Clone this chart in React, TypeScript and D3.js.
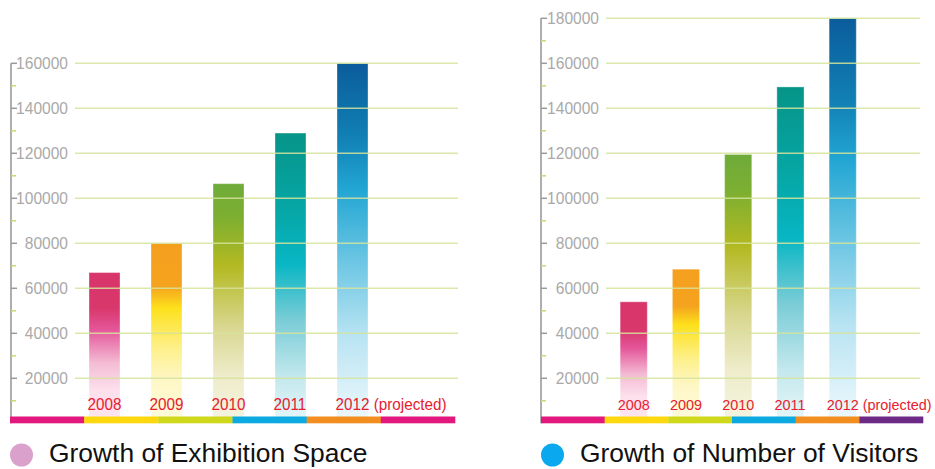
import * as d3 from "d3";

const years = ["2008", "2009", "2010", "2011", "2012"];
const yearSuffix = ["", "", "", "", " (projected)"];
const exhibitionSpace = [67000, 80000, 106500, 129000, 160000];
const visitors = [54000, 68500, 119500, 149500, 180000];
const exhibitionTicks = [20000, 40000, 60000, 80000, 100000, 120000, 140000, 160000];
const visitorTicks = [20000, 40000, 60000, 80000, 100000, 120000, 140000, 160000, 180000];
const exhibitionBand = ["#e2187f", "#fdd80f", "#cfd81b", "#0caae0", "#f28d1f", "#e2187f"];
const visitorBand = ["#e2187f", "#fdd80f", "#cfd81b", "#0caae0", "#f28d1f", "#6c2a86"];
const legendTitles = ["Growth of Exhibition Space", "Growth of Number of Visitors"];

// vertical fades, top of bar -> bottom of bar
const barStops: [number, string][][] = [
  [[0, "#d8356a"], [0.24, "#d9386d"], [0.38, "#e4569a"], [0.6, "#f4bcd4"], [0.78, "#fde0ec"], [1, "#fde5ef"]],
  [[0, "#f59f1f"], [0.24, "#f5a31e"], [0.36, "#fde11b"], [0.58, "#fdf08a"], [0.76, "#fef7c6"], [1, "#fffbdd"]],
  [[0, "#6eab3a"], [0.14, "#7daf31"], [0.34, "#b3b921"], [0.6, "#d9d790"], [0.8, "#eeecca"], [1, "#f6f4e1"]],
  [[0, "#069488"], [0.28, "#06a8a8"], [0.45, "#08b6c4"], [0.64, "#78ccd6"], [0.84, "#c3e8ed"], [1, "#e7f7fa"]],
  [[0, "#0b5c9b"], [0.2, "#117fb4"], [0.35, "#22a6d3"], [0.55, "#6cc6e3"], [0.76, "#b9e4f2"], [1, "#eff9fd"]],
];

const FONT = "'Liberation Sans', Arial, Helvetica, sans-serif";
const UNIT = 0.00225; // px per value, shared by both panels
const ZERO = 423.3;
const NARROW = 0.93; // the original face is a little narrower than Arial

type PanelProps = {
  id: string;
  values: number[];
  ticks: number[];
  bandColors: string[];
  axisX: number;
  labelRight: number;
  gridRange: [number, number];
  barRange: [number, number];
  barPadding: number;
  bandRange: [number, number];
  yearSize: number;
  legend: string;
  legendColor: string;
};

function Panel({
  id, values, ticks, bandColors, axisX, labelRight, gridRange, barRange, barPadding, bandRange, yearSize, legend, legendColor,
}: PanelProps) {
  const maxTick = d3.max(ticks) ?? 0;
  const y = d3.scaleLinear().domain([0, maxTick]).range([ZERO, ZERO - maxTick * UNIT]);
  const x = d3.scaleBand<string>().domain(years).range(barRange).paddingInner(barPadding).paddingOuter(0.5);
  const seg = d3.scaleBand<number>().domain(d3.range(bandColors.length)).range(bandRange);
  const step = ticks[1] - ticks[0];
  const minor = ticks.map((t) => t - step / 2);
  const bw = x.bandwidth();
  const yearWidth = 4 * 0.556 * yearSize * NARROW;

  return (
    <g>
      <defs>
        {years.map((yr, i) => (
          <linearGradient key={yr} id={`${id}-g${i}`} x1="0" y1="0" x2="0" y2="1">
            {barStops[i].map(([o, c]) => (
              <stop key={o} offset={o} stopColor={c} />
            ))}
          </linearGradient>
        ))}
      </defs>

      {years.map((yr, i) => (
        <rect
          key={yr}
          x={x(yr)}
          y={y(values[i])}
          width={bw}
          height={ZERO - y(values[i])}
          fill={`url(#${id}-g${i})`}
          stroke="#ffffff"
          strokeOpacity={0.35}
          strokeWidth={1}
        />
      ))}

      {ticks.map((t) => (
        <line key={t} x1={gridRange[0]} x2={gridRange[1]} y1={y(t)} y2={y(t)}
          stroke="#d6e39c" strokeOpacity={0.85} strokeWidth={1.5} />
      ))}

      <line x1={axisX} x2={axisX} y1={y(maxTick)} y2={ZERO} stroke="#9a9a9a" strokeWidth={1.6} />
      {minor.map((t) => (
        <line key={t} x1={axisX} x2={axisX + 5} y1={y(t)} y2={y(t)} stroke="#cad96a" strokeWidth={1.5} />
      ))}
      {ticks.map((t) => (
        <line key={t} x1={axisX} x2={axisX + 6} y1={y(t)} y2={y(t)} stroke="#9a9a9a" strokeWidth={1.5} />
      ))}
      {ticks.map((t) => (
        <g key={t} transform={`translate(${labelRight},${y(t) + 5.9}) scale(0.955,1)`}>
          <text textAnchor="end" fontSize={16.3} fill="#a9a9a9" fontFamily={FONT}>
            {t}
          </text>
        </g>
      ))}

      {years.map((yr, i) => {
        const cx = (x(yr) ?? 0) + bw / 2;
        return (
          <g key={yr} transform={`translate(${cx - yearWidth / 2},409.8) scale(${NARROW},1)`}>
            <text fontSize={yearSize} fill="#e6202f" fontFamily={FONT}>
              {yr + yearSuffix[i]}
            </text>
          </g>
        );
      })}

      {bandColors.map((c, i) => (
        <rect key={i} x={seg(i)} y={416.5} width={seg.bandwidth() + 0.3} height={6.8} fill={c} />
      ))}

      <circle cx={bandRange[0] + 11.5} cy={455} r={11.5} fill={legendColor} />
      <text x={bandRange[0] + 39} y={462} fontSize={26.4} fill="#111111" fontFamily={FONT}>
        {legend}
      </text>
    </g>
  );
}

export default function App() {
  return (
    <svg
      width={935}
      height={469}
      viewBox="0 0 935 469"
      style={{ position: "absolute", left: 0, top: 0, background: "#ffffff" }}
    >
      <Panel
        id="space"
        values={exhibitionSpace}
        ticks={exhibitionTicks}
        bandColors={exhibitionBand}
        axisX={11}
        labelRight={68}
        gridRange={[75, 458]}
        barRange={[58, 399]}
        barPadding={0.5}
        bandRange={[10, 455]}
        yearSize={16.4}
        legend={legendTitles[0]}
        legendColor="#d9a1cb"
      />
      <Panel
        id="visitors"
        values={visitors}
        ticks={visitorTicks}
        bandColors={visitorBand}
        axisX={541}
        labelRight={599}
        gridRange={[606, 920]}
        barRange={[594, 882.4]}
        barPadding={0.48}
        bandRange={[541, 923]}
        yearSize={15.5}
        legend={legendTitles[1]}
        legendColor="#0aa8ee"
      />
    </svg>
  );
}
